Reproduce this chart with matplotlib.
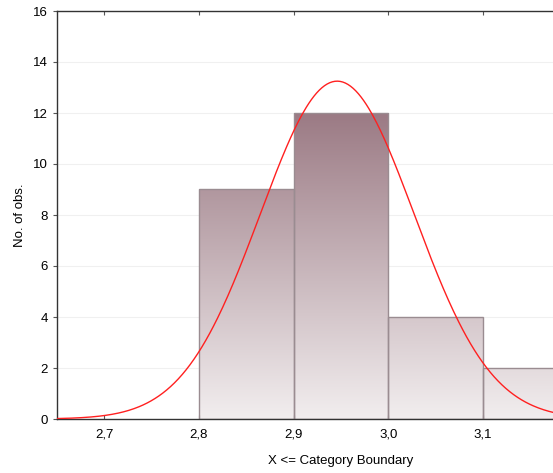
import matplotlib
import numpy as np

matplotlib.use("Agg")
import matplotlib.pyplot as plt
from matplotlib.colors import LinearSegmentedColormap
from matplotlib.patches import Rectangle

plt.rcParams["font.family"] = ["Liberation Sans", "DejaVu Sans"]

# histogram bins (upper boundaries) and counts
BIN_LEFT = [2.8, 2.9, 3.0, 3.1]
BIN_WIDTH = 0.1
COUNTS = [9, 12, 4, 2]
X_TICKS = [2.7, 2.8, 2.9, 3.0, 3.1]
X_LABELS = ["2,7", "2,8", "2,9", "3,0", "3,1"]
Y_TICKS = [0, 2, 4, 6, 8, 10, 12, 14, 16]

# fitted normal curve parameters
MEAN = 2.946
SD = 0.0813
N_OBS = sum(COUNTS)

fig = plt.figure(figsize=(5.53, 4.73), dpi=100)
ax = fig.add_axes([57 / 553, 54 / 473, 496 / 553, 408 / 473])

# vertical gradient, dark at the tallest bar, light at the base
cmap = LinearSegmentedColormap.from_list("bars", ["#f2eeef", "#9b7a84"])
top = max(COUNTS)
grad = np.linspace(0, 1, 256).reshape(-1, 1)
for left, c in zip(BIN_LEFT, COUNTS):
    im = ax.imshow(grad, cmap=cmap, aspect="auto", origin="lower",
                   extent=(2.65, 3.3, 0, top), zorder=1, interpolation="bilinear")
    rect = Rectangle((left, 0), BIN_WIDTH, c, facecolor="none",
                     edgecolor="#9a8c91", linewidth=1.0, zorder=2)
    ax.add_patch(rect)
    im.set_clip_path(rect)

xs = np.linspace(2.65, 3.2, 400)
ys = N_OBS * BIN_WIDTH * np.exp(-0.5 * ((xs - MEAN) / SD) ** 2) / (SD * np.sqrt(2 * np.pi))
ax.plot(xs, ys, color="#ff2020", linewidth=1.0, zorder=3)
ax.set_xlim(2.65, 3.174)
ax.set_ylim(0, 16)

for y in Y_TICKS[1:]:
    ax.axhline(y, color="#f0f0f0", linewidth=0.8, zorder=0)

ax.set_xticks(X_TICKS)
ax.set_xticklabels(X_LABELS)
ax.set_yticks(Y_TICKS)
ax.tick_params(axis="x", direction="in", length=3, top=True, labelsize=9.5, pad=7, color="#555555")
ax.tick_params(axis="y", direction="out", length=3, labelsize=9.5, color="#555555")
ax.spines["right"].set_visible(False)
for s in ("left", "bottom", "top"):
    ax.spines[s].set_color("#333333")
    ax.spines[s].set_linewidth(1.0)

# the original plot area runs past the right edge, so the label sits off-centre
ax.set_xlabel("X <= Category Boundary", fontsize=9.5)
ax.xaxis.set_label_coords(0.571, -0.088)
ax.set_ylabel("No. of obs.", fontsize=9.5, labelpad=5)

fig.savefig("out.png", dpi=100)
